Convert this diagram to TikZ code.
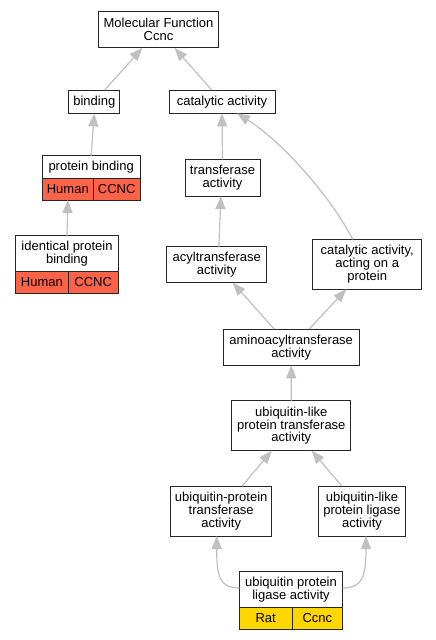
\documentclass[tikz,border=0pt]{standalone}
\usepackage{fontspec}
\setmainfont{Liberation Sans}
\usetikzlibrary{arrows.meta}
\definecolor{edgegray}{RGB}{192,192,192}
\definecolor{humanred}{RGB}{255,99,71}
\definecolor{ratgold}{RGB}{255,215,0}
\tikzset{
  box/.style={draw=black!85, line width=1pt, fill=white, inner sep=0pt, outer sep=0pt, align=center,
    font=\fontsize{13}{12.9}\selectfont},
  cellred/.style={box, fill=humanred},
  cellgold/.style={box, fill=ratgold},
  edge/.style={draw=edgegray, line width=1.2pt, -{Triangle[length=13pt,width=10pt,fill=edgegray]}},
}
\begin{document}
\begin{tikzpicture}[x=1pt,y=-1pt]
\useasboundingbox (0,0) rectangle (436,640);
\fill[white] (0,0) rectangle (436,640);
% nodes
\node[box, minimum width=120.4pt, minimum height=36.3pt] (mf) at (158.5,29.8) {Molecular Function\\Ccnc};
\node[box, minimum width=51.3pt, minimum height=23.3pt] (bind) at (94.3,101.7) {binding};
\node[box, minimum width=106pt, minimum height=23.3pt] (cat) at (222,101.7) {catalytic activity};
\node[box, minimum width=97.7pt, minimum height=22.6pt] (pb) at (91.15,167) {protein binding};
\node[cellred, minimum width=51pt, minimum height=21.7pt] (pbh) at (67.8,189.15) {Human};
\node[cellred, minimum width=46.7pt, minimum height=21.7pt] (pbc) at (116.65,189.15) {CCNC};
\node[box, minimum width=75pt, minimum height=36.7pt] (trans) at (222.5,177.7) {transferase\\activity};
\node[box, minimum width=102.6pt, minimum height=36pt] (ipb) at (67,253.7) {identical protein\\binding};
\node[cellred, minimum width=52.3pt, minimum height=21.6pt] (ipbh) at (41.85,282.5) {Human};
\node[cellred, minimum width=50.3pt, minimum height=21.6pt] (ipbc) at (93.15,282.5) {CCNC};
\node[box, minimum width=99.7pt, minimum height=36pt] (acyl) at (216.8,264.7) {acyltransferase\\activity};
\node[box, minimum width=109pt, minimum height=50pt] (catp) at (367.2,264.3) {catalytic activity,\\acting on a\\protein};
\node[box, minimum width=135.7pt, minimum height=36.3pt] (amino) at (291.2,347.2) {aminoacyltransferase\\activity};
\node[box, minimum width=119.3pt, minimum height=50pt] (ulpt) at (291.3,425.7) {ubiquitin-like\\protein transferase\\activity};
\node[box, minimum width=101pt, minimum height=50pt] (upt) at (221.2,511) {ubiquitin-protein\\transferase\\activity};
\node[box, minimum width=87.4pt, minimum height=50pt] (ulpl) at (362,511) {ubiquitin-like\\protein ligase\\activity};
\node[box, minimum width=103.4pt, minimum height=36pt] (upl) at (291,589.7) {ubiquitin protein\\ligase activity};
\node[cellgold, minimum width=52.7pt, minimum height=21.6pt] (uplr) at (265.65,618.5) {Rat};
\node[cellgold, minimum width=50.7pt, minimum height=21.6pt] (uplc) at (317.35,618.5) {Ccnc};
% edges
\draw[edge] (bind) -- (mf);
\draw[edge] (cat) -- (mf);
\draw[edge] (pb.north) -- (bind.south);
\draw[edge] (ipb.north) -- (pbh.south);
\draw[edge] (trans.north) -- (cat.south);
\draw[edge] ([xshift=2pt]acyl.north) -- ([xshift=-1.5pt]trans.south);
\draw[edge] ([xshift=-14.5pt]catp.north) .. controls (330,195) and (280,140) .. ([xshift=15pt]cat.south);
\draw[edge] ([xshift=-17pt]amino.north) -- ([xshift=16pt]acyl.south);
\draw[edge] ([xshift=18pt]amino.north) -- ([xshift=-21pt]catp.south);
\draw[edge] (ulpt.north) -- (amino.south);
\draw[edge] ([xshift=21pt]upt.north) -- ([xshift=-19.6pt]ulpt.south);
\draw[edge] ([xshift=-20.3pt]ulpl.north) -- ([xshift=20.4pt]ulpt.south);
\draw[edge] ([yshift=1.7pt]upl.west) .. controls +(-20,0) and +(0,40) .. ([xshift=-4.5pt]upt.south);
\draw[edge] ([yshift=1.7pt]upl.east) .. controls +(20,0) and +(0,40) .. ([xshift=4pt]ulpl.south);
\end{tikzpicture}
\end{document}
